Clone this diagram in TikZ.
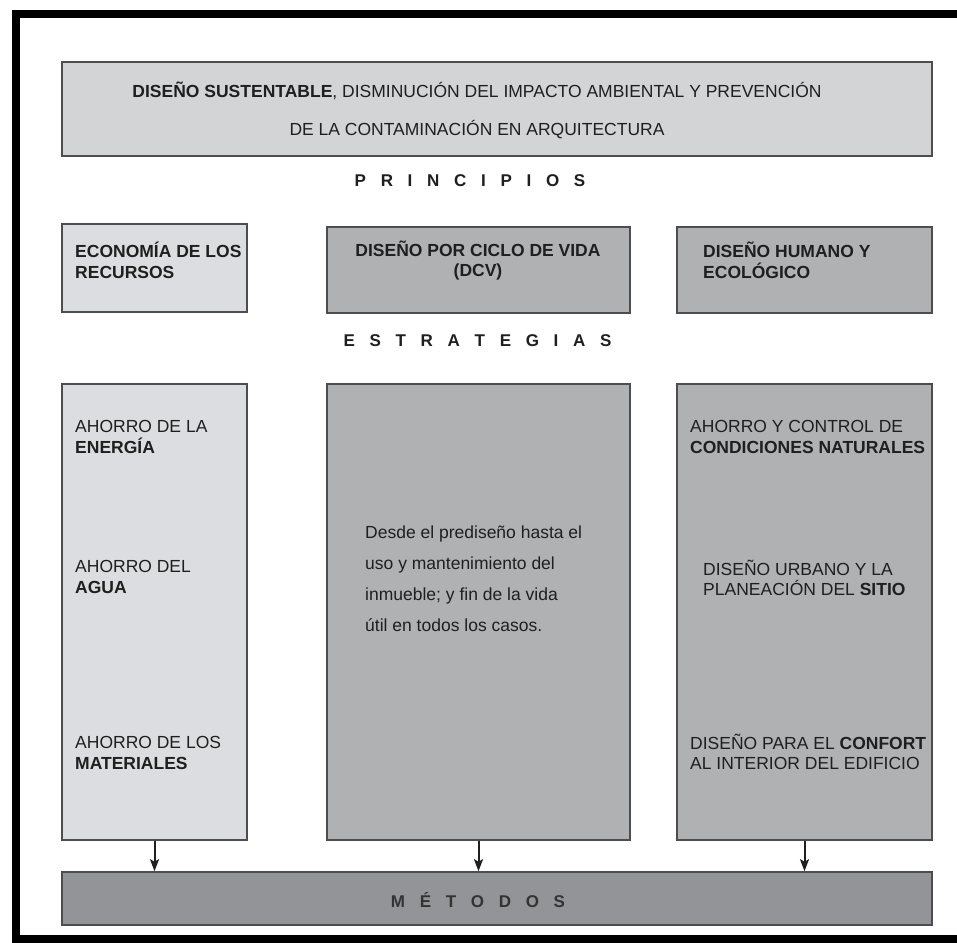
\documentclass[tikz,border=0pt]{standalone}
\usepackage{fontspec}
\setmainfont{Liberation Sans}
\usetikzlibrary{arrows.meta}

\definecolor{grisclaro}{HTML}{DCDDE0}
\definecolor{gristitulo}{HTML}{D3D4D6}
\definecolor{grismedio}{HTML}{B0B1B3}
\definecolor{grisoscuro}{HTML}{939497}
\definecolor{borde}{HTML}{4D4D4F}
\definecolor{texto}{HTML}{1F1F1F}
\newcommand{\esp}{\hspace{14.7pt}}

\begin{document}
\begin{tikzpicture}[x=1pt,y=-1pt,->,>={Stealth[length=12pt,width=9pt,inset=2.5pt]},
    caja/.style={draw=borde,line width=1.6pt,inner sep=0pt},
    flecha/.style={draw=texto,line width=2pt},
    txt/.style={text=texto,inner sep=0pt,font=\fontsize{17.5}{20.5}\selectfont},
    izq/.style={txt,align=left,anchor=west}]
  \useasboundingbox (0,0) rectangle (957,942);
  \clip (0,0) rectangle (957,942);
  \fill[white] (0,0) rectangle (957,942);
  \draw[-,line width=8pt] (960,14) -- (16,14) -- (16,938.5) -- (960,938.5);
  % cajas
  \node[caja,fill=gristitulo,minimum width=870pt,minimum height=94pt] (tit) at (497,109) {};
  \node[caja,fill=grisclaro,minimum width=185pt,minimum height=88pt] (eco) at (154.5,268) {};
  \node[caja,fill=grismedio,minimum width=303pt,minimum height=86pt] (dcv) at (478.5,270) {};
  \node[caja,fill=grismedio,minimum width=255pt,minimum height=86pt] (hum) at (804.5,270) {};
  \node[caja,fill=grisclaro,minimum width=185pt,minimum height=456pt] (estA) at (154.5,612) {};
  \node[caja,fill=grismedio,minimum width=303pt,minimum height=456pt] (estB) at (478.5,612) {};
  \node[caja,fill=grismedio,minimum width=255pt,minimum height=456pt] (estC) at (804.5,612) {};
  \node[caja,fill=grisoscuro,minimum width=870pt,minimum height=53pt] (met) at (497,898.5) {};
  % textos
  \node[txt,align=center] (titulo) at (477,110.5)
    {\textbf{DISEÑO SUSTENTABLE}, DISMINUCIÓN DEL IMPACTO AMBIENTAL Y PREVENCIÓN\\[17.5pt]
     DE LA CONTAMINACIÓN EN ARQUITECTURA};
  \node[txt,font=\fontsize{17}{20.5}\selectfont\bfseries] (princ) at (470,181)
    {P\esp R\esp I\esp N\esp C\esp I\esp P\esp I\esp O\esp S};
  \node[izq] (ecot) at (75,260.5) {\textbf{ECONOMÍA DE LOS}\\\textbf{RECURSOS}};
  \node[txt,align=center] (dcvt) at (478,260.5) {\textbf{DISEÑO POR CICLO DE VIDA}\\\textbf{(DCV)}};
  \node[izq] (humt) at (703,260.5) {\textbf{DISEÑO HUMANO Y}\\\textbf{ECOLÓGICO}};
  \node[txt,font=\fontsize{17}{20.5}\selectfont\bfseries] (estr) at (477.5,341)
    {E\esp S\esp T\esp R\esp A\esp T\esp E\esp G\esp I\esp A\esp S};
  \node[izq] (ener) at (75,437) {AHORRO DE LA\\\textbf{ENERGÍA}};
  \node[izq] (agua) at (75,577) {AHORRO DEL\\\textbf{AGUA}};
  \node[izq] (mate) at (75,753) {AHORRO DE LOS\\\textbf{MATERIALES}};
  \node[izq] (ciclo) at (365,579) {Desde el prediseño hasta el\\[10.5pt]
    uso y mantenimiento del\\[10.5pt]inmueble; y fin de la vida\\[10.5pt]útil en todos los casos.};
  \node[izq] (cond) at (690,437) {AHORRO Y CONTROL DE\\\textbf{CONDICIONES NATURALES}};
  \node[izq] (sitio) at (703,578) {DISEÑO URBANO Y LA\\PLANEACIÓN DEL \textbf{SITIO}};
  \node[izq] (conf) at (690,752) {DISEÑO PARA EL \textbf{CONFORT}\\AL INTERIOR DEL EDIFICIO};
  \node[txt,text=black!80,font=\fontsize{17}{20.5}\selectfont\bfseries] (metodos) at (478,900)
    {M\esp É\esp T\esp O\esp D\esp O\esp S};
  % flechas
  \path (estA.south) edge[flecha] (estA.south |- met.north)
    (estB.south) edge[flecha] (estB.south |- met.north)
    (estC.south) edge[flecha] (estC.south |- met.north);
\end{tikzpicture}
\end{document}
